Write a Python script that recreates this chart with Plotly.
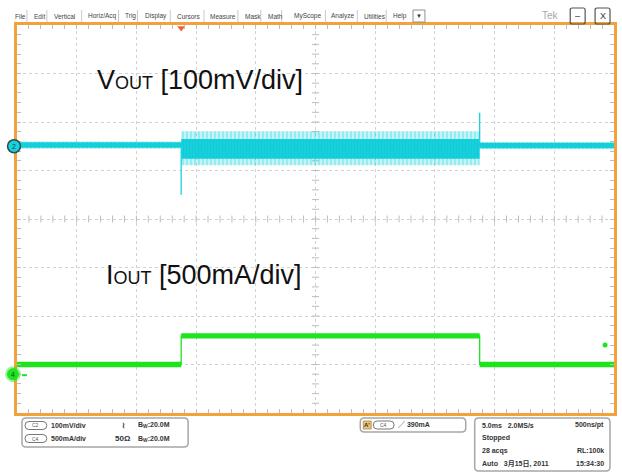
import plotly.graph_objects as go

# ---------------- data ----------------
t_ms = [-13.75, 0, 25, 36.25]           # segment starts, ms (trigger at 0)
vout_core_hi = [8, 15, 7, 7]            # mV, dense part of the noise band
vout_core_lo = [-3, -26, -4, -4]
vout_fringe_hi = [10, 31, 9, 9]         # mV, sparse noise peaks
vout_fringe_lo = [-5, -39, -6, -6]
vout_mid = [3, -5, 1, 1]
spike_t = [0, 25]                       # ms, load-step transients
spike_mv = [-100, 69]
iout_ma = [100, 395, 100, 100]          # mA
iout_band = 28                          # mA half-width of the trace
trig_level_ma = 300
ch2_ref_mv = 0                          # CH2 ground/offset marker
ch4_ref_ma = 0                          # CH4 ground marker

menu_items = ["File", "Edit", "Vertical", "Horiz/Acq", "Trig", "Display", "Cursors",
              "Measure", "Mask", "Math", "MyScope", "Analyze", "Utilities", "Help"]
ch_rows = [("C2", "100mV/div", "\u2240", "20.0M"), ("C4", "500mA/div", "50\u03a9", "20.0M")]
trig_text = "390mA"
status_rows = [("5.0ms   2.0MS/s", "500ns/pt"), ("Stopped", ""), ("28 acqs", "RL:100k"),
               ("Auto   3月15日, 2011", "15:34:30")]

# ---------------- styling / geometry ----------------
W, H = 622, 473
L, R, T, B = 17, 5, 25, 60
PW, PH = W - L - R, H - T - B
CYAN = "#16D2DC"
GREEN = "#1EE41E"
ORANGE = "#F2A23A"
GRID = "#D2D2D2"
TICKC = "#BDBDBD"
FONT = "Liberation Sans, Arial, Noto Sans CJK SC, sans-serif"

X_RANGE = [-13.75, 36.25]
V_RANGE = [-550, 250]     # 100 mV/div, offset +1.5 div
I_RANGE = [-400, 3600]    # 500 mA/div, offset -3.2 div


def X(px):
    return (px - L) / PW


def Y(py):
    return (T + PH - py) / PH


def py_of(v, rng):
    return T + PH * (rng[1] - v) / (rng[1] - rng[0])


def rrect(x0, y0, x1, y1, r):
    return (f"M {X(x0+r)},{Y(y0)} L {X(x1-r)},{Y(y0)} Q {X(x1)},{Y(y0)} {X(x1)},{Y(y0+r)} "
            f"L {X(x1)},{Y(y1-r)} Q {X(x1)},{Y(y1)} {X(x1-r)},{Y(y1)} "
            f"L {X(x0+r)},{Y(y1)} Q {X(x0)},{Y(y1)} {X(x0)},{Y(y1-r)} "
            f"L {X(x0)},{Y(y0+r)} Q {X(x0)},{Y(y0)} {X(x0+r)},{Y(y0)} Z")


fig = go.Figure()

# ---- graticule centre-line ticks ----
cx = (X_RANGE[0] + X_RANGE[1]) / 2
cy = (V_RANGE[0] + V_RANGE[1]) / 2
xt = [X_RANGE[0] + i for i in range(1, 50)]
yt = [V_RANGE[0] + 20 * i for i in range(1, 40)]
fig.add_trace(go.Scatter(x=xt, y=[cy] * len(xt), mode="markers", hoverinfo="skip",
                         marker=dict(symbol="line-ns-open", size=5, color=TICKC,
                                     line=dict(color=TICKC, width=1))))
fig.add_trace(go.Scatter(x=[cx] * len(yt), y=yt, mode="markers", hoverinfo="skip",
                         marker=dict(symbol="line-ew-open", size=5, color=TICKC,
                                     line=dict(color=TICKC, width=1))))

# ---- Vout (CH2) ----
fig.add_trace(go.Scatter(x=t_ms, y=vout_fringe_hi, mode="lines", line=dict(width=0, shape="hv"),
                         hoverinfo="skip"))
fig.add_trace(go.Scatter(x=t_ms, y=vout_fringe_lo, mode="lines", line=dict(width=0, shape="hv"),
                         fill="tonexty", fillcolor="rgba(22,210,220,0.40)",
                         fillpattern=dict(shape="|", fgcolor="rgba(22,210,220,0.9)",
                                          bgcolor="rgba(22,210,220,0.25)", size=4, solidity=0.3),
                         hoverinfo="skip"))
fig.add_trace(go.Scatter(x=t_ms, y=vout_core_hi, mode="lines", line=dict(width=0, shape="hv"),
                         hoverinfo="skip"))
fig.add_trace(go.Scatter(x=t_ms, y=vout_core_lo, mode="lines", line=dict(width=0, shape="hv"),
                         fill="tonexty", fillcolor=CYAN,
                         fillpattern=dict(shape="|", fgcolor="#10C4CF", bgcolor=CYAN, size=3, solidity=0.4),
                         hoverinfo="skip"))
sx, sy = [], []
for t, v in zip(spike_t, spike_mv):
    base = vout_mid[t_ms.index(t)]
    sx += [t, t, None]
    sy += [base, v, None]
fig.add_trace(go.Scatter(x=sx, y=sy, mode="lines", line=dict(color=CYAN, width=1.3), hoverinfo="skip"))

# ---- Iout (CH4) ----
i_hi = [v + iout_band for v in iout_ma]
i_lo = [v - iout_band for v in iout_ma]
fig.add_trace(go.Scatter(x=t_ms, y=i_hi, yaxis="y2", mode="lines", line=dict(width=0, shape="hv"),
                         hoverinfo="skip"))
fig.add_trace(go.Scatter(x=t_ms, y=i_lo, yaxis="y2", mode="lines", line=dict(width=0, shape="hv"),
                         fill="tonexty", fillcolor=GREEN, hoverinfo="skip"))
fig.add_trace(go.Scatter(x=t_ms, y=iout_ma, yaxis="y2", mode="lines",
                         line=dict(color=GREEN, width=1.3, shape="hv"), hoverinfo="skip"))
fig.add_trace(go.Scatter(x=[35.5], y=[trig_level_ma], yaxis="y2", mode="markers",
                         marker=dict(size=5, color=GREEN), hoverinfo="skip"))
fig.add_trace(go.Scatter(x=[0], y=[V_RANGE[1] - 6], mode="markers", cliponaxis=False,
                         marker=dict(symbol="triangle-down", size=7, color="#F0603C"), hoverinfo="skip"))

# ---- axes ----
fig.update_layout(
    width=W, height=H, margin=dict(l=L, r=R, t=T, b=B),
    paper_bgcolor="white", plot_bgcolor="white", showlegend=False,
    font=dict(family=FONT),
    xaxis=dict(range=X_RANGE, tick0=X_RANGE[0], dtick=5, showgrid=True, gridcolor=GRID, griddash="dot",
               gridwidth=1, zeroline=False, showticklabels=False, showline=True, linecolor=ORANGE,
               linewidth=2.5, mirror="allticks", ticks="inside", ticklen=4, tickcolor=TICKC,
               minor=dict(tick0=X_RANGE[0], dtick=1, ticks="inside", ticklen=4, tickcolor=TICKC)),
    yaxis=dict(range=V_RANGE, tick0=V_RANGE[0], dtick=100, showgrid=True, gridcolor=GRID, griddash="dot",
               gridwidth=1, zeroline=False, showticklabels=False, showline=True, linecolor=ORANGE,
               linewidth=2.5, mirror="allticks", ticks="inside", ticklen=4, tickcolor=TICKC,
               minor=dict(tick0=V_RANGE[0], dtick=20, ticks="inside", ticklen=4, tickcolor=TICKC)),
    yaxis2=dict(range=I_RANGE, overlaying="y", showgrid=False, zeroline=False, showticklabels=False,
                showline=False, ticks=""),
)

shapes = []
anns = []


def ann(text, px, py, size=7, anchor="left", color="#333333", bold=True, **kw):
    anns.append(dict(text=text, x=X(px), y=Y(py), xref="paper", yref="paper", xanchor=anchor,
                     yanchor="middle", showarrow=False,
                     font=dict(size=size, color=color, family=FONT, weight="bold" if bold else "normal"),
                     **kw))


def circle(pxc, pyc, rad, fill, line_color, lw):
    shapes.append(dict(type="circle", xref="paper", yref="paper", x0=X(pxc - rad), x1=X(pxc + rad),
                       y0=Y(pyc + rad), y1=Y(pyc - rad), fillcolor=fill,
                       line=dict(color=line_color, width=lw), layer="above"))


# channel reference markers on the left edge
p2 = py_of(ch2_ref_mv, V_RANGE)
circle(14, p2, 6.5, CYAN, "#2E4A55", 1.5)
ann("2", 14, p2, size=7, anchor="center", color="#1A3A44", bold=False)
p4 = py_of(ch4_ref_ma, I_RANGE)
circle(13, p4, 8, "rgba(30,228,30,0.45)", "rgba(0,0,0,0)", 0)
circle(13, p4, 5.5, GREEN, GREEN, 1)
ann("4", 13, p4, size=7, anchor="center", color="#1A4A1A", bold=False)
shapes.append(dict(type="line", xref="paper", yref="paper", x0=X(22), x1=X(27), y0=Y(p4 + 1), y1=Y(p4 + 1),
                   line=dict(color=GREEN, width=2)))

# trace labels
ann("V<span style='font-size:18px'>OUT</span> [100mV/div]", 95, 80, size=27, color="#111111", bold=False)
ann("I<span style='font-size:18px'>OUT</span> [500mA/div]", 104, 275, size=27, color="#111111", bold=False)

# menu bar
menu_x = [13, 32, 52, 86, 124, 144, 176, 209, 244, 267, 293, 331, 364, 393]
sep_x = [27, 47, 82, 119, 138, 171, 205, 239, 262, 283, 327, 359, 388]
for name, px in zip(menu_items, menu_x):
    ann(name, px, 16, size=6.5, color="#444444", bold=False)
for px in sep_x:
    shapes.append(dict(type="line", xref="paper", yref="paper", x0=X(px), x1=X(px), y0=Y(10), y1=Y(22),
                       line=dict(color="#C8C8C8", width=1)))
shapes.append(dict(type="rect", xref="paper", yref="paper", x0=X(415), x1=X(427), y0=Y(10), y1=Y(22),
                   line=dict(color="#909090", width=1)))
ann("\u25bc", 421, 16, size=6, anchor="center", color="#333333", bold=False)
ann("Tek", 553, 15, size=10, anchor="center", color="#A8A8A8", bold=False)
for x0, sym in [(573, "\u2013"), (598, "X")]:
    shapes.append(dict(type="path", xref="paper", yref="paper", path=rrect(x0, 8, x0 + 15, 24, 2),
                       line=dict(color="#555555", width=1.2)))
    ann(sym, x0 + 7.5, 16, size=9, anchor="center", color="#333333", bold=False)

# channel box
BOXC = "#A6A6A6"
shapes.append(dict(type="path", xref="paper", yref="paper", path=rrect(22, 418, 189, 447, 4),
                   line=dict(color=BOXC, width=1.5)))
for i, (ch, scale, cpl, bw) in enumerate(ch_rows):
    yy = 425.5 + 13 * i
    shapes.append(dict(type="path", xref="paper", yref="paper", path=rrect(25, yy - 4, 47, yy + 4, 4),
                       line=dict(color="#777777", width=1)))
    ann(ch, 36, yy, size=5, anchor="center", color="#555555", bold=False)
    ann(scale, 49, yy, size=7)
    ann(cpl, 124, yy, size=8, anchor="center")
    ann("B<sub>W</sub>:" + bw, 137, yy, size=7)

# trigger box
shapes.append(dict(type="path", xref="paper", yref="paper", path=rrect(362, 418, 468, 432, 4),
                   line=dict(color=BOXC, width=1.5)))
shapes.append(dict(type="rect", xref="paper", yref="paper", x0=X(365), x1=X(373), y0=Y(421), y1=Y(429),
                   fillcolor="#E8C27A", line=dict(color="#B08840", width=0.8)))
ann("A'", 369, 425, size=6, anchor="center", color="#333333")
shapes.append(dict(type="path", xref="paper", yref="paper", path=rrect(375, 421, 396, 429, 4),
                   line=dict(color="#777777", width=1)))
ann("C4", 385.5, 425, size=5, anchor="center", color="#555555", bold=False)
ann("\u2571 " + trig_text, 398, 425, size=7)

# status box
shapes.append(dict(type="path", xref="paper", yref="paper", path=rrect(477, 418, 613, 471, 4),
                   line=dict(color=BOXC, width=1.5)))
for i, (lt, rt) in enumerate(status_rows):
    yy = 425.5 + 12.7 * i
    ann(lt, 482, yy, size=7)
    if rt:
        ann(rt, 609, yy, size=7, anchor="right")

fig.update_layout(shapes=shapes, annotations=anns)
fig.write_html("out.html", config={"displayModeBar": False},
               post_script="document.body.style.margin='0px';")
